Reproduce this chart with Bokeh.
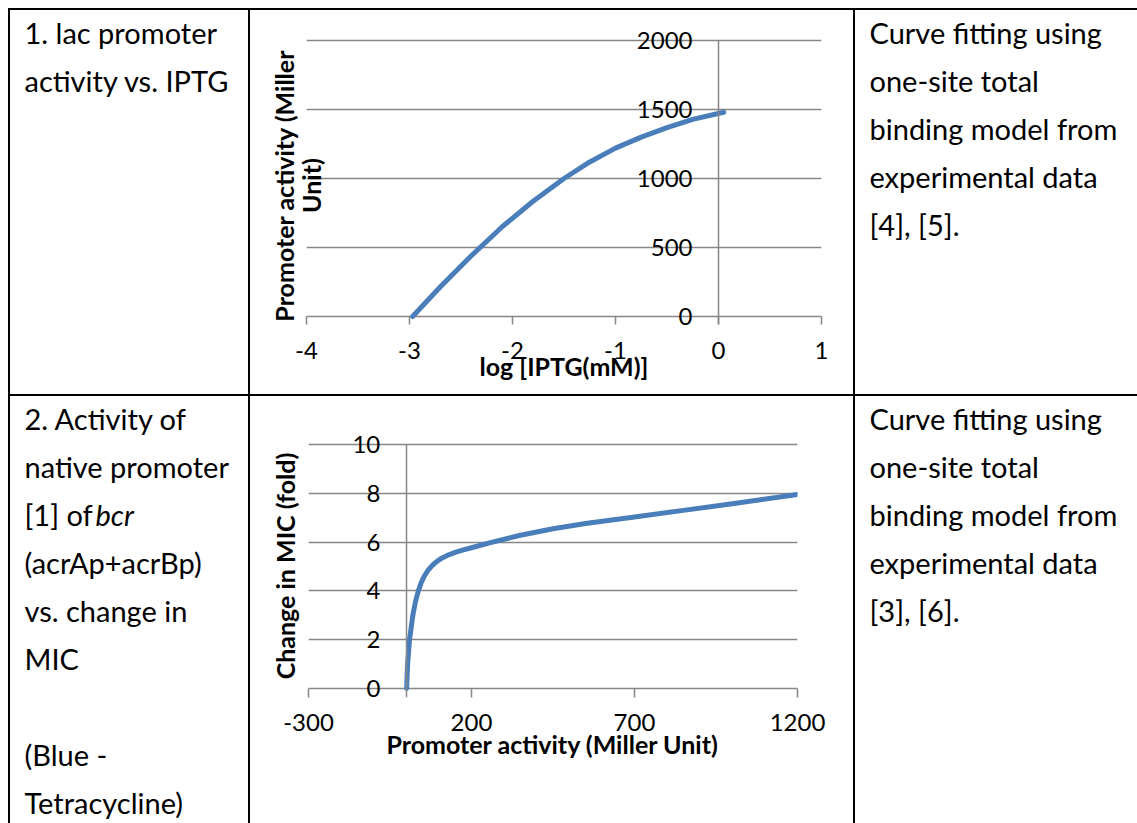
from bokeh.plotting import figure
from bokeh.layouts import column, row
from bokeh.models import Range1d, LinearAxis, FixedTicker, Spacer, Div
from bokeh.core.properties import value
from bokeh.embed import file_html
from bokeh.resources import INLINE

# ---------------- data ----------------
# Chart 1: lac promoter activity vs. log[IPTG]
c1_x = [-2.97, -2.7, -2.4, -2.1, -1.8, -1.5, -1.25, -1.0, -0.75, -0.5, -0.25, 0.05]
c1_y = [0, 215, 440, 650, 835, 1000, 1120, 1220, 1300, 1368, 1428, 1480]
c1_xticks = [-4, -3, -2, -1, 0, 1]
c1_xtick_labels = ["-4", "-3", "-2", "-1", "0", "1"]
c1_yticks = [0, 500, 1000, 1500, 2000]
c1_ytick_labels = ["0", "500", "1000", "1500", "2000"]
c1_xtitle = "log [IPTG(mM)]"
c1_ytitle = "Promoter activity (Miller\nUnit)"

# Chart 2: change in MIC vs promoter activity
c2_x = [1, 4, 10, 20, 28, 37, 46, 55, 67, 80, 95, 110, 130, 150, 175, 200, 258, 350, 450, 550, 700, 850, 1000, 1200]
c2_y = [0, 1.0, 2.0, 3.0, 3.55, 4.0, 4.35, 4.6, 4.85, 5.05, 5.22, 5.35, 5.48, 5.58, 5.68, 5.77, 5.98, 6.28, 6.55, 6.76, 7.03, 7.3, 7.57, 7.95]
c2_xticks = [-300, 200, 700, 1200]
c2_xtick_labels = ["-300", "200", "700", "1200"]
c2_yticks = [0, 2, 4, 6, 8, 10]
c2_ytick_labels = ["0", "2", "4", "6", "8", "10"]
c2_xtitle = "Promoter activity (Miller Unit)"
c2_ytitle = "Change in MIC (fold)"

# Table texts
a1_lines = ["1. lac promoter", "activity vs. IPTG"]
c1_lines = ["Curve fitting using", "one-site total", "binding model from", "experimental data", "[4], [5]."]
a2_lines = ["2. Activity of", "native promoter", "[1] of", "(acrAp+acrBp)", "vs. change in", "MIC", "", "(Blue -", "Tetracycline)"]
a2_italic = "bcr"
c2_lines = ["Curve fitting using", "one-site total", "binding model from", "experimental data", "[3], [6]."]

# ---------------- style ----------------
FONT = "Lato"
GRID = "#868686"
BLUE = "#4a7ebb"
TXT = "29px"
TICK = "24px"
TITLE = "25px"
LINE = 48
PAD = 14
BASE = 22


def make_chart(xs, ys, xr, yr, xticks, xlabels, yticks, ylabels, xtitle, ytitle,
               w, h, borders, plot_px, tick_len, bottom_ext, xlab_so, xtit_so, ytit_so,
               ytit_lh):
    units_per_px = (yr[1] - yr[0]) / plot_px
    ystart = yr[0] - bottom_ext * units_per_px
    yend = yr[1] + 10 * units_per_px
    p = figure(width=w, height=h, x_range=Range1d(*xr), y_range=Range1d(ystart, yend),
               output_backend="svg", toolbar_location=None, frame_align=False,
               min_border_left=borders[0], min_border_right=borders[1],
               min_border_top=borders[2], min_border_bottom=borders[3],
               outline_line_color=None)
    p.xgrid.visible = False
    p.ygrid.grid_line_color = GRID
    p.ygrid.grid_line_width = 1.5

    # value axis crossing at x = 0
    ya = p.yaxis[0]
    ya.fixed_location = 0
    ya.bounds = (yr[0] - tick_len * units_per_px, yr[1])
    ya.ticker = FixedTicker(ticks=yticks)
    ya.major_label_overrides = {float(t): l for t, l in zip(yticks, ylabels)}
    ya.major_tick_out = 0
    ya.major_tick_in = 0
    ya.minor_tick_out = 0
    ya.minor_tick_in = 0
    ya.major_label_standoff = 26
    ya.axis_line_color = GRID
    ya.axis_line_width = 1.5
    ya.major_label_text_font = FONT
    ya.major_label_text_font_size = TICK
    ya.major_label_text_color = "black"

    # title-only axis on the left
    ta = LinearAxis(ticker=FixedTicker(ticks=[]), axis_label=ytitle,
                    axis_line_color=None, major_tick_line_color=None,
                    minor_tick_line_color=None, major_tick_out=0, minor_tick_out=0,
                    major_label_standoff=0, axis_label_standoff=ytit_so,
                    axis_label_text_font=FONT, axis_label_text_font_size=TITLE,
                    axis_label_text_font_style="bold", axis_label_text_color="black",
                    axis_label_text_line_height=ytit_lh)
    p.add_layout(ta, "left")

    xa = p.xaxis[0]
    xa.ticker = FixedTicker(ticks=xticks)
    xa.major_label_overrides = {float(t): l for t, l in zip(xticks, xlabels)}
    xa.major_tick_in = bottom_ext
    xa.major_tick_out = tick_len - bottom_ext
    xa.minor_tick_in = 0
    xa.minor_tick_out = tick_len - bottom_ext
    xa.axis_line_color = None
    xa.major_tick_line_color = GRID
    xa.major_tick_line_width = 1.5
    xa.major_label_standoff = xlab_so
    xa.major_label_text_font = FONT
    xa.major_label_text_font_size = TICK
    xa.major_label_text_color = "black"
    xa.axis_label = xtitle
    xa.axis_label_standoff = xtit_so
    xa.axis_label_text_font = FONT
    xa.axis_label_text_font_size = TITLE
    xa.axis_label_text_font_style = "bold"
    xa.axis_label_text_color = "black"

    p.line(xs, ys, line_color=BLUE, line_width=5, line_cap="round", line_join="round")
    return p


def text_cell(w, h, lines, base, italic=None):
    p = figure(width=w, height=h, x_range=Range1d(0, w), y_range=Range1d(h, 0),
               x_axis_location=None, y_axis_location=None, min_border=0,
               toolbar_location=None, output_backend="svg", outline_line_color=None,
               frame_align=False)
    p.grid.visible = False
    ys = [base + i * LINE for i in range(len(lines))]
    p.text(x=[PAD] * len(lines), y=ys, text=lines, text_font=value(FONT),
           text_font_size=value(TXT), text_baseline="alphabetic", text_align="left",
           text_color="black")
    if italic is not None:
        idx, xoff, word = italic
        p.text(x=[xoff], y=[ys[idx]], text=[word], text_font=value(FONT),
               text_font_size=value(TXT), text_font_style="italic",
               text_baseline="alphabetic", text_align="left", text_color="black")
    return p


def bar(w, h):
    return Div(text="", width=w, height=h, margin=0, sizing_mode="fixed",
               styles={"background-color": "black"})


W = 1129
H1, H2 = 384, 427
WA, WC, WR = 238, 603, 282

# chart 1: frame spans x -4..1 (515 px); 2000 units = 276 px
chart1 = make_chart(c1_x, c1_y, (-4, 1), (0, 2000), c1_xticks, c1_xtick_labels,
                    c1_yticks, c1_ytick_labels, c1_xtitle, c1_ytitle,
                    WC, H1, (56, 32, 20, 54), 276, 8, 24, 1, -11, -19, 0.9)
# chart 2: frame spans x -300..1200 (489 px); 10 units = 244 px
chart2 = make_chart(c2_x, c2_y, (-300, 1200), (0, 10), c2_xticks, c2_xtick_labels,
                    c2_yticks, c2_ytick_labels, c2_xtitle, c2_ytitle,
                    WC, H2, (58, 56, 38, 126), 244, 9, 9, 16, -5, 9, 1.08)

a1 = text_cell(WA, H1, a1_lines, BASE)
r1 = text_cell(WR, H1, c1_lines, BASE)
a2 = text_cell(WA, H2, a2_lines, BASE, italic=(2, 85, a2_italic))
r2 = text_cell(WR, H2, c2_lines, BASE)

table = column(
    bar(W, 2),
    row(bar(2, H1), a1, bar(2, H1), chart1, bar(2, H1), r1),
    bar(W, 2),
    row(bar(2, H2), a2, bar(2, H2), chart2, bar(2, H2), r2),
)

page = column(Spacer(width=8, height=8, margin=0), row(Spacer(width=8, height=8, margin=0), table))

open("out.html", "w").write(file_html(page, INLINE))
